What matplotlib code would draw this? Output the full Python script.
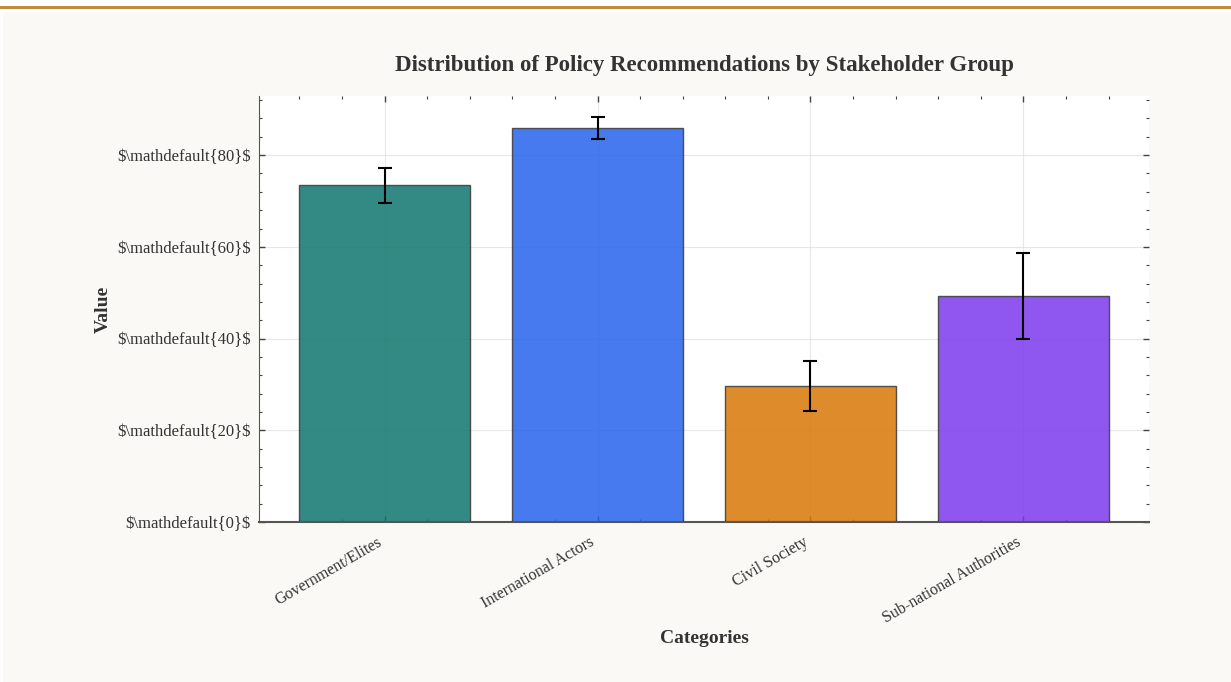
import matplotlib
matplotlib.use("Agg")
import matplotlib.pyplot as plt
from matplotlib.patches import Rectangle
from matplotlib.ticker import AutoMinorLocator, FuncFormatter

# datos
categorias = ["Government/Elites", "International Actors", "Civil Society", "Sub-national Authorities"]
valores = [73.4, 86.0, 29.7, 49.3]
errores = [3.9, 2.4, 5.4, 9.3]
colores = ["#0f766e", "#2563eb", "#d97706", "#7c3aed"]

plt.rcParams["font.family"] = ["Liberation Serif", "DejaVu Serif"]
plt.rcParams["text.color"] = "#333333"
plt.rcParams["axes.labelcolor"] = "#333333"

fig = plt.figure(figsize=(12.31, 6.82), dpi=100, facecolor="white")

# marco de fondo y linea dorada arriba
fig.patches.append(Rectangle((3 / 1231, 0), 1 - 3 / 1231, 1 - 12 / 682,
                             transform=fig.transFigure, facecolor="#faf9f5",
                             edgecolor="none", zorder=-10))
fig.patches.append(Rectangle((0, 1 - 9 / 682), 1, 3 / 682,
                             transform=fig.transFigure, facecolor="#c08a3a",
                             edgecolor="none", zorder=-9))

ax = fig.add_axes([259 / 1231, 1 - 522 / 682, 890 / 1231, 426 / 682])
ax.set_facecolor("white")

x = range(len(categorias))
ax.bar(x, valores, width=0.8, color=colores, alpha=0.85,
       edgecolor="#3a3a3a", linewidth=1.0, zorder=2)
ax.errorbar(x, valores, yerr=errores, fmt="none", ecolor="black",
            elinewidth=1.5, capsize=5, capthick=1.5, zorder=3)

ax.set_ylim(0, 92.9)
ax.set_xticks(list(x))
ax.set_xticklabels(categorias, rotation=30, ha="right", fontsize=11.5, color="#333333")
ax.set_yticks([0, 20, 40, 60, 80])
ax.yaxis.set_major_formatter(FuncFormatter(lambda v, p: "\\$\\mathdefault{%d}\\$" % v))
ax.tick_params(axis="y", labelsize=12, labelcolor="#333333", pad=6)
ax.tick_params(axis="x", pad=9)

ax.xaxis.set_minor_locator(AutoMinorLocator(5))
ax.yaxis.set_minor_locator(AutoMinorLocator(5))
ax.tick_params(which="both", direction="in", top=True, right=True, color="#444444")
ax.tick_params(which="major", length=4, width=1)
ax.tick_params(which="minor", length=2, width=0.8)

ax.grid(True, which="major", color="#dddddd", linewidth=0.8, alpha=0.7, zorder=0)
ax.set_axisbelow(True)

for lado in ["top", "right"]:
    ax.spines[lado].set_visible(False)
ax.spines["left"].set_color("#555555")
ax.spines["bottom"].set_color("#555555")
ax.spines["bottom"].set_linewidth(1.5)

ax.set_title("Distribution of Policy Recommendations by Stakeholder Group",
             fontsize=16.5, fontweight="bold", pad=18)
ax.set_xlabel("Categories", fontsize=14, fontweight="bold", labelpad=2)
ax.set_ylabel("Value", fontsize=14, fontweight="bold", labelpad=4)

fig.savefig("out.png", dpi=100, facecolor=fig.get_facecolor())
